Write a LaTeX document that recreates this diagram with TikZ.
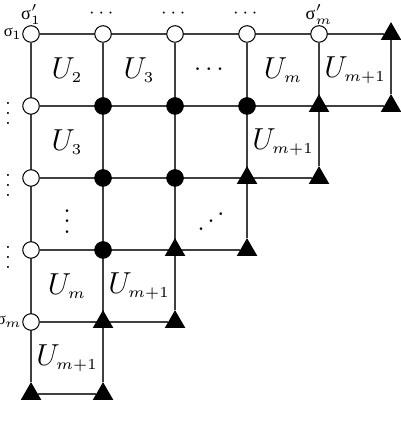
\documentclass[tikz,border=0pt]{standalone}
\usepackage{amsmath,amssymb}
\usepackage{fontspec}
\usepackage{tikz}
\usetikzlibrary{shapes.geometric,backgrounds}
\newfontfamily\greekfont{Liberation Serif}
\newcommand{\sig}{{\greekfont σ}}
\newcommand{\cellU}[1]{\fontsize{13}{15}\selectfont$U_{\scriptscriptstyle #1}$}

\begin{document}
\begin{tikzpicture}[
    wnode/.style={draw, circle, fill=white, inner sep=0pt, minimum size=0.23cm},
    bnode/.style={draw, circle, fill=black, inner sep=0pt, minimum size=0.23cm},
    tnode/.style={draw, regular polygon, regular polygon sides=3, fill=black, inner sep=0pt, minimum size=0.3cm},
    wire/.style={draw=black!75, line width=0.8pt},
    lbl/.style={font=\fontsize{7.2}{9}\selectfont, inner sep=0pt},
    side/.style={font=\fontsize{6.6}{8}\selectfont, inner sep=0pt, anchor=east}
]
    \useasboundingbox (-0.431,-0.556) rectangle (5.125,5.472);
    % Row 0
    \node[wnode] (n00) at (0,5) {};
    \node[wnode] (n01) at (1,5) {};
    \node[wnode] (n02) at (2,5) {};
    \node[wnode] (n03) at (3,5) {};
    \node[wnode] (n04) at (4,5) {};
    \node[tnode] (n05) at (5,5) {};
    % Row 1
    \node[wnode] (n10) at (0,4) {};
    \node[bnode] (n11) at (1,4) {};
    \node[bnode] (n12) at (2,4) {};
    \node[bnode] (n13) at (3,4) {};
    \node[tnode] (n14) at (4,4) {};
    \node[tnode] (n15) at (5,4) {};
    % Row 2
    \node[wnode] (n20) at (0,3) {};
    \node[bnode] (n21) at (1,3) {};
    \node[bnode] (n22) at (2,3) {};
    \node[tnode] (n23) at (3,3) {};
    \node[tnode] (n24) at (4,3) {};
    % Row 3
    \node[wnode] (n30) at (0,2) {};
    \node[bnode] (n31) at (1,2) {};
    \node[tnode] (n32) at (2,2) {};
    \node[tnode] (n33) at (3,2) {};
    % Row 4
    \node[wnode] (n40) at (0,1) {};
    \node[tnode] (n41) at (1,1) {};
    \node[tnode] (n42) at (2,1) {};
    % Row 5
    \node[tnode] (n50) at (0,0) {};
    \node[tnode] (n51) at (1,0) {};

    % Grid lines
    \begin{scope}[on background layer]
    \draw[wire] (n00) -- (n05);
    \draw[wire] (n10) -- (n15);
    \draw[wire] (n20) -- (n24);
    \draw[wire] (n30) -- (n33);
    \draw[wire] (n40) -- (n42);
    \draw[wire] (n50) -- (n51);
    \draw[wire] (n00) -- (n50);
    \draw[wire] (n01) -- (n51);
    \draw[wire] (n02) -- (n42);
    \draw[wire] (n03) -- (n33);
    \draw[wire] (n04) -- (n24);
    \draw[wire] (n05) -- (n15);
    \end{scope}

    % Top and left labels
    \node[lbl] (top0) at (0,5.27) {\sig$'_1$};
    \node[lbl] (top1) at (1,5.28) {$\cdots$};
    \node[lbl] (top2) at (2,5.28) {$\cdots$};
    \node[lbl] (top3) at (3,5.28) {$\cdots$};
    \node[lbl] (top4) at (4,5.27) {\sig$'_m$};
    \node[side] (left0) at (-0.12,5) {\sig\kern-0.3pt$_1$};
    \node[lbl] (left1) at (-0.32,4) {$\vdots$};
    \node[lbl] (left2) at (-0.32,3) {$\vdots$};
    \node[lbl] (left3) at (-0.32,2) {$\vdots$};
    \node[side] (left4) at (-0.12,1) {\sig\kern-0.3pt$_m$};

    % Cell labels
    \node (c00) at (0.5,4.5) {\cellU{2}};
    \node (c01) at (1.5,4.5) {\cellU{3}};
    \node (c02) at (2.5,4.5) {$\cdots$};
    \node (c03) at (3.5,4.5) {\cellU{m}};
    \node (c04) at (4.5,4.5) {\cellU{m+1}};
    \node (c10) at (0.5,3.5) {\cellU{3}};
    \node (c13) at (3.5,3.5) {\cellU{m+1}};
    \node (c20) at (0.5,2.5) {$\vdots$};
    \node (c22) at (2.5,2.5) {\reflectbox{$\ddots$}};
    \node (c30) at (0.5,1.5) {\cellU{m}};
    \node (c31) at (1.5,1.5) {\cellU{m+1}};
    \node (c40) at (0.5,0.5) {\cellU{m+1}};
\end{tikzpicture}
\end{document}
